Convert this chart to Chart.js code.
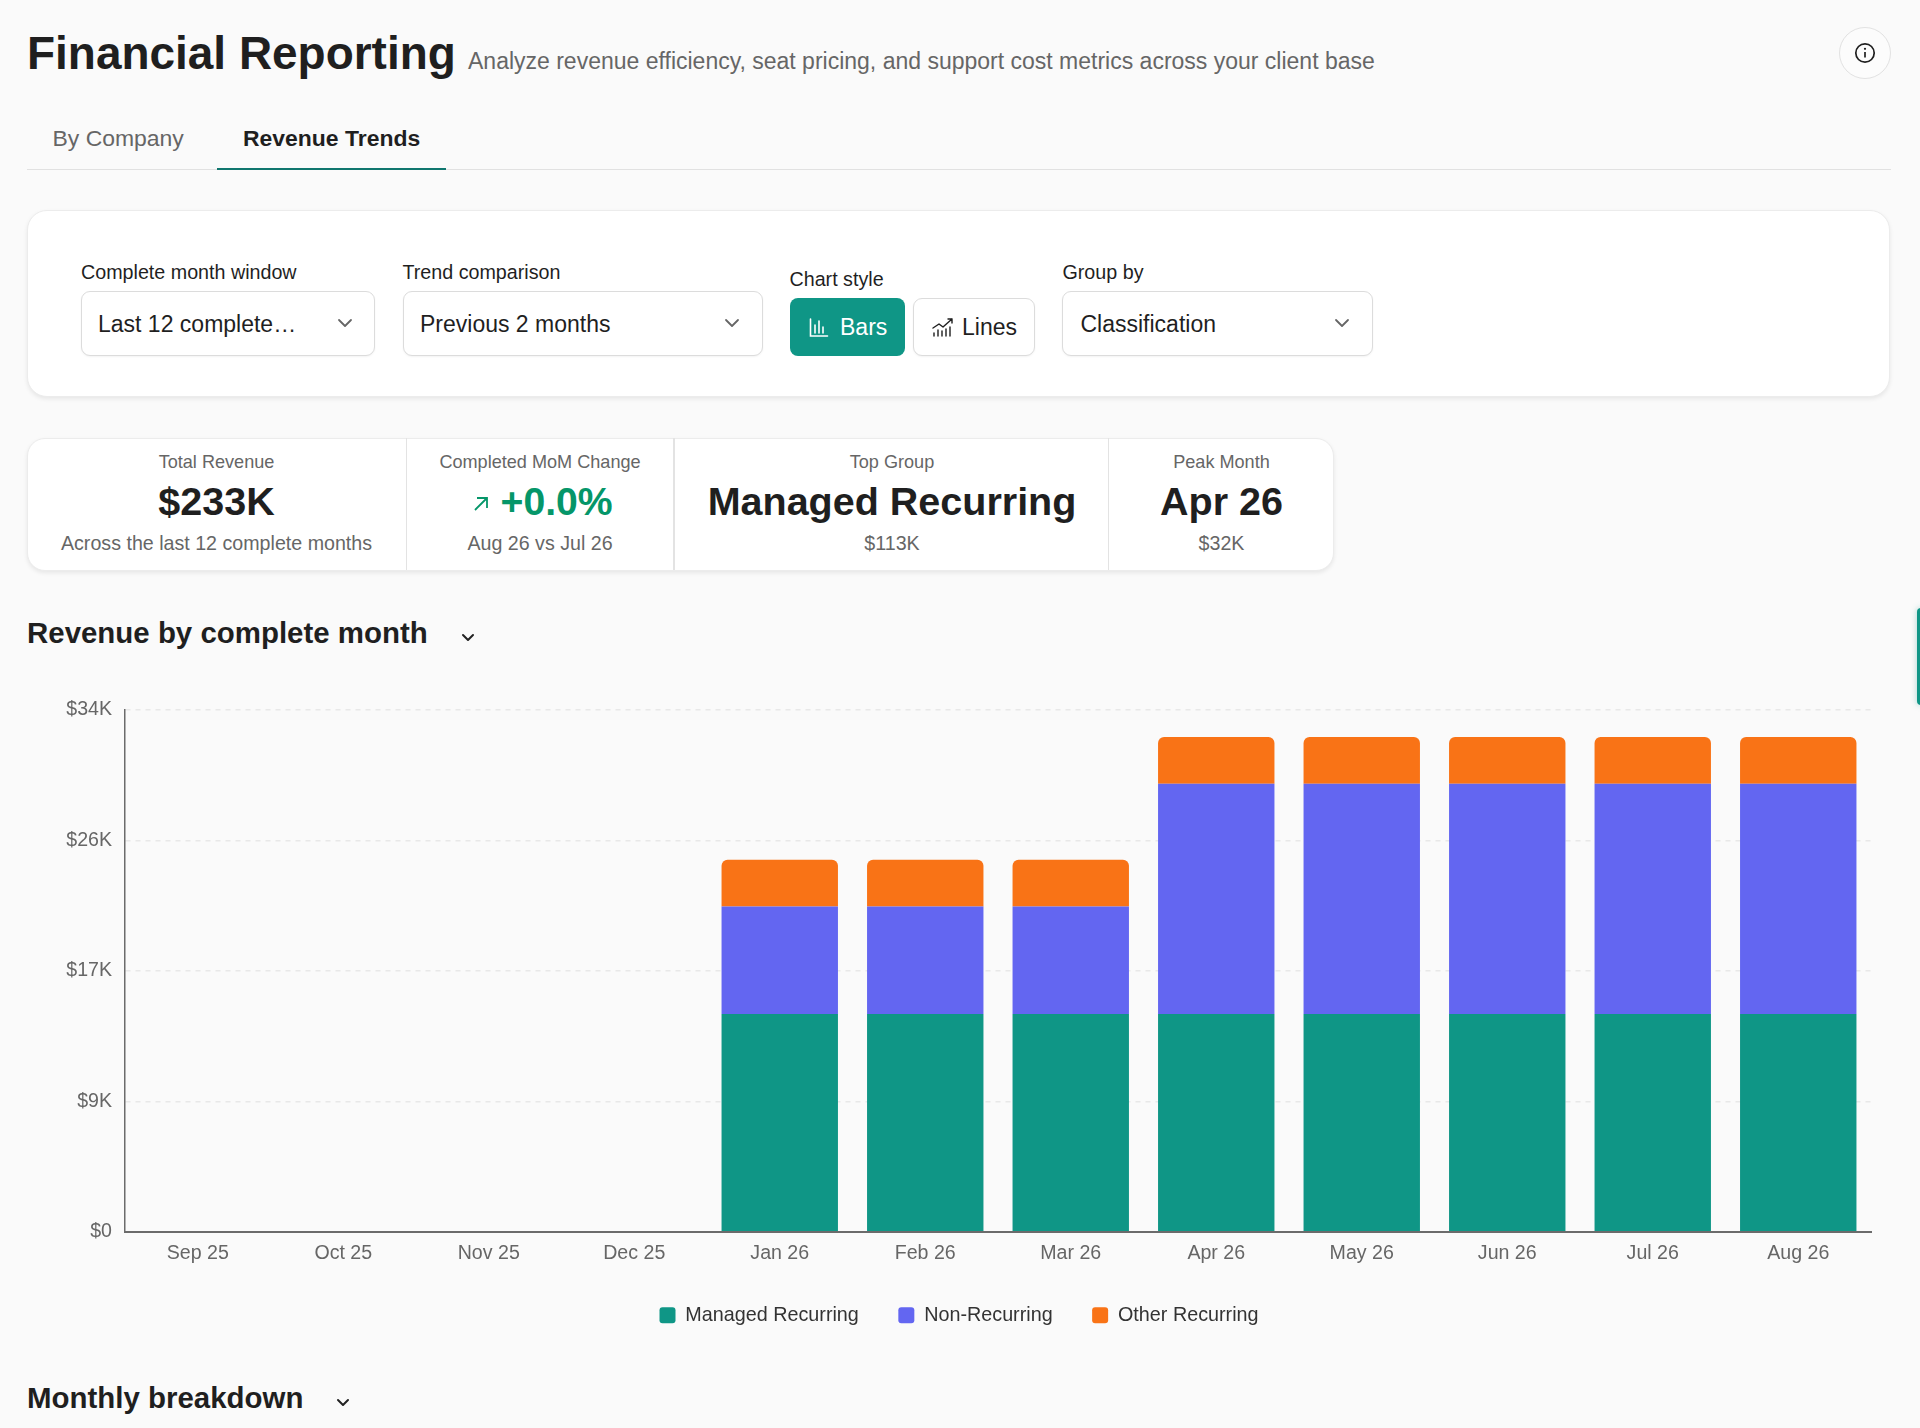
<!DOCTYPE html>
<html><head><meta charset="utf-8">
<script src="https://cdn.jsdelivr.net/npm/chart.js@4/dist/chart.umd.min.js"></script>
<style>
html,body{margin:0;padding:0;background:#fafafa;width:1920px;height:1428px;overflow:hidden;font-family:"Liberation Sans",Arial,sans-serif;color:#1f1f1f}
.t{position:absolute;white-space:nowrap;line-height:1.2;transform:translateY(-50%)}
.c{transform:translate(-50%,-50%)}
.b{position:absolute;box-sizing:border-box}
.field{background:#fff;border:1.5px solid #dcdcdc;border-radius:9px;box-shadow:0 1px 2px rgba(0,0,0,.05)}
svg{position:absolute;overflow:visible}
.chev{fill:none;stroke:#666;stroke-width:1.8;stroke-linecap:round;stroke-linejoin:round}
.chevd{fill:none;stroke:#222;stroke-width:2;stroke-linecap:round;stroke-linejoin:round}
canvas{position:absolute;left:27px;top:685px}
</style></head><body>

<div class="t" style="left:27px;top:54px;font-size:45.95px;font-weight:700">Financial Reporting</div>
<div class="t" style="left:468px;top:62px;font-size:23px;color:#666">Analyze revenue efficiency, seat pricing, and support cost metrics across your client base</div>
<div class="b" style="left:1838.5px;top:27px;width:52px;height:52px;border-radius:50%;border:1.5px solid #e2e2e2;background:#fcfcfc"></div>
<svg style="left:1853.5px;top:42px" width="22" height="22" viewBox="0 0 22 22"><circle cx="11" cy="11" r="9.2" fill="none" stroke="#1f1f1f" stroke-width="1.7"/><line x1="11" y1="10" x2="11" y2="15.5" stroke="#1f1f1f" stroke-width="1.7"/><circle cx="11" cy="6.8" r="1.1" fill="#1f1f1f"/></svg>

<div class="t" style="left:52.5px;top:138.5px;font-size:22.95px;color:#666">By Company</div>
<div class="t" style="left:243px;top:138.5px;font-size:22.95px;font-weight:700">Revenue Trends</div>
<div class="b" style="left:27px;top:168.5px;width:1864px;height:1.5px;background:#e1e1e1"></div>
<div class="b" style="left:217px;top:167.5px;width:229px;height:2px;background:#0f766e"></div>

<div class="b" style="left:26.5px;top:210px;width:1863.5px;height:187px;background:#fff;border:1.5px solid #ececec;border-radius:20px;box-shadow:0 2px 4px rgba(0,0,0,.08)"></div>
<div class="t" style="left:81px;top:273px;font-size:19.7px">Complete month window</div>
<div class="t" style="left:402.5px;top:273px;font-size:19.7px">Trend comparison</div>
<div class="t" style="left:789.5px;top:280px;font-size:19.7px">Chart style</div>
<div class="t" style="left:1062.5px;top:273px;font-size:19.7px">Group by</div>
<div class="b field" style="left:81px;top:291px;width:294px;height:65px"></div>
<div class="b field" style="left:402.5px;top:291px;width:360px;height:65px"></div>
<div class="b field" style="left:1062px;top:291px;width:311px;height:65px"></div>
<div class="t" style="left:98px;top:324.5px;font-size:23px">Last 12 complete…</div>
<div class="t" style="left:420px;top:324.5px;font-size:23px">Previous 2 months</div>
<div class="t" style="left:1080.5px;top:324.5px;font-size:23px">Classification</div>
<svg class="chev" style="left:338px;top:319px" width="14" height="8"><path d="M1 1l6 6 6-6"/></svg>
<svg class="chev" style="left:725px;top:319px" width="14" height="8"><path d="M1 1l6 6 6-6"/></svg>
<svg class="chev" style="left:1335px;top:319px" width="14" height="8"><path d="M1 1l6 6 6-6"/></svg>
<div class="b" style="left:790px;top:298px;width:114.5px;height:57.5px;background:#0f9686;border-radius:8px"></div>
<svg style="left:808.5px;top:318px" width="20" height="20" fill="none" stroke="#fff" stroke-width="1.6" stroke-linecap="round"><path d="M1.5 1v17h17M6 15V7M10 15V3M14 15V9"/></svg>
<div class="t" style="left:840px;top:327.5px;font-size:23px;color:#fff">Bars</div>
<div class="b field" style="left:912.5px;top:298px;width:122.5px;height:58px"></div>
<svg style="left:931.5px;top:318px" width="22" height="20" fill="none" stroke="#1f1f1f" stroke-width="1.4" stroke-linecap="round" stroke-linejoin="round"><path d="M1 10l6-4 4 3 9-8M16 1h4v4M2 18v-3M6 18v-6M10 18v-5M14 18v-7M18 18v-9"/></svg>
<div class="t" style="left:962px;top:327.5px;font-size:23px">Lines</div>

<div class="b" style="left:26.5px;top:437.5px;width:1307.5px;height:133px;background:#fff;border:1.5px solid #ececec;border-radius:18px;box-shadow:0 2px 4px rgba(0,0,0,.08)"></div>
<div class="b" style="left:405.5px;top:438px;width:1.5px;height:132px;background:#e3e3e3"></div>
<div class="b" style="left:673px;top:438px;width:1.5px;height:132px;background:#e3e3e3"></div>
<div class="b" style="left:1107.5px;top:438px;width:1.5px;height:132px;background:#e3e3e3"></div>

<div class="t c" style="left:216.5px;top:463px;font-size:18.1px;color:#666">Total Revenue</div>
<div class="t c" style="left:216.5px;top:502px;font-size:39.5px;font-weight:700">$233K</div>
<div class="t c" style="left:216.5px;top:544px;font-size:19.65px;color:#666">Across the last 12 complete months</div>

<div class="t c" style="left:540px;top:463px;font-size:18.1px;color:#666">Completed MoM Change</div>
<svg style="left:472.5px;top:496px" width="16" height="16" fill="none" stroke="#059669" stroke-width="1.8"><path d="M2 14L14 2M4 2h10v10"/></svg>
<div class="t" style="left:500.5px;top:502px;font-size:39.2px;font-weight:700;color:#059669">+0.0%</div>
<div class="t c" style="left:540px;top:544px;font-size:19.65px;color:#666">Aug 26 vs Jul 26</div>

<div class="t c" style="left:892px;top:463px;font-size:18.1px;color:#666">Top Group</div>
<div class="t c" style="left:892px;top:502px;font-size:39.5px;font-weight:700">Managed Recurring</div>
<div class="t c" style="left:892px;top:544px;font-size:19.65px;color:#666">$113K</div>

<div class="t c" style="left:1221.5px;top:463px;font-size:18.1px;color:#666">Peak Month</div>
<div class="t c" style="left:1221.5px;top:502px;font-size:39.5px;font-weight:700">Apr 26</div>
<div class="t c" style="left:1221.5px;top:544px;font-size:19.65px;color:#666">$32K</div>

<div class="t" style="left:27px;top:633px;font-size:29.45px;font-weight:700">Revenue by complete month</div>
<svg class="chevd" style="left:461.5px;top:634px" width="12" height="7"><path d="M1 1l5 5 5-5"/></svg>
<div class="t" style="left:27px;top:1398px;font-size:29.45px;font-weight:700">Monthly breakdown</div>
<svg class="chevd" style="left:337px;top:1399px" width="12" height="7"><path d="M1 1l5 5 5-5"/></svg>

<div class="b" style="left:1917px;top:608px;width:8px;height:97px;background:#0f9686;border-radius:8px;box-shadow:0 0 6px rgba(15,150,134,.35)"></div>

<canvas id="chart" width="1864" height="650" style="width:1864px;height:650px"></canvas>

<script>
const months = ["Sep 25","Oct 25","Nov 25","Dec 25","Jan 26","Feb 26","Mar 26","Apr 26","May 26","Jun 26","Jul 26","Aug 26"];
const managedRecurring = [0,0,0,0,14.18,14.18,14.18,14.18,14.18,14.18,14.18,14.18];
const nonRecurring = [0,0,0,0,7.0,7.0,7.0,15.0,15.0,15.0,15.0,15.0];
const otherRecurring = [0,0,0,0,3.05,3.05,3.05,3.05,3.05,3.05,3.05,3.05];
const yTicks = [0,8.5,17,25.5,34];
const TEAL="#0f9686", INDIGO="#6366f1", ORANGE="#f97316";
const FONT='"Liberation Sans", Arial, sans-serif';

new Chart(document.getElementById("chart"),{
  type:"bar",
  data:{labels:months,datasets:[
    {label:"Managed Recurring",data:managedRecurring,backgroundColor:TEAL,borderWidth:0},
    {label:"Non-Recurring",data:nonRecurring,backgroundColor:INDIGO,borderWidth:0},
    {label:"Other Recurring",data:otherRecurring,backgroundColor:ORANGE,borderWidth:0,
     borderRadius:{topLeft:6,topRight:6,bottomLeft:0,bottomRight:0},borderSkipped:false}
  ]},
  options:{
    responsive:false,animation:false,maintainAspectRatio:false,
    layout:{padding:{top:15.5,right:20,left:20,bottom:0}},
    datasets:{bar:{categoryPercentage:0.8,barPercentage:1}},
    plugins:{
      tooltip:{enabled:false},
      legend:{position:"bottom",align:"center",labels:{
        color:"#333",font:{family:FONT,size:19.75},boxWidth:16,boxHeight:16,
        useBorderRadius:true,borderRadius:3,padding:39.5}}
    },
    scales:{
      x:{stacked:true,
        grid:{display:false,drawTicks:false},
        border:{display:true,color:"#6b6b6b",width:2},
        afterFit(s){s.height=34;},
        ticks:{color:"#666",font:{family:FONT,size:19.6},padding:10,autoSkip:false,maxRotation:0}},
      y:{stacked:true,min:0,max:34,
        afterFit(s){s.width=78;},
        afterBuildTicks(s){s.ticks=yTicks.map(v=>({value:v}));},
        grid:{color:"#e8e8e8",lineWidth:1.5,drawTicks:false},
        border:{display:true,color:"#6b6b6b",width:1.5,dash:[5,5],dashOffset:0},
        ticks:{color:"#666",font:{family:FONT,size:19.6},padding:13,
          callback:v=>"$"+Math.round(v)+(v?"K":"")}}
    }
  }
});
</script>
</body></html>
